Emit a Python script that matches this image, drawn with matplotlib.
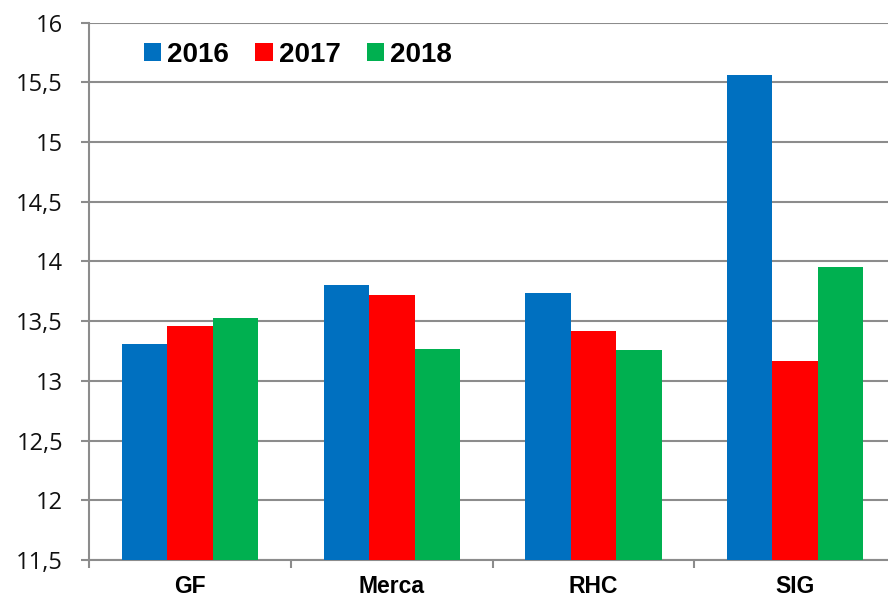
"""Bar chart: values per unit for 2016-2018."""

import matplotlib
matplotlib.use("Agg")
import matplotlib.pyplot as plt
from matplotlib.patches import Patch
import numpy as np

categories = ["GF", "Merca", "RHC", "SIG"]
years = ["2016", "2017", "2018"]
values_2016 = [13.31, 13.80, 13.74, 15.56]
values_2017 = [13.46, 13.72, 13.42, 13.17]
values_2018 = [13.53, 13.27, 13.26, 13.95]
yticks = [11.5, 12, 12.5, 13, 13.5, 14, 14.5, 15, 15.5, 16]
ytick_labels = ["11,5", "12", "12,5", "13", "13,5", "14", "14,5", "15", "15,5", "16"]

COLORS = ["#0070C0", "#FF0000", "#00B050"]
GRID = "#8C8C8C"


def main() -> None:
    fig = plt.figure(figsize=(8.88, 6.03), dpi=100)
    ax = fig.add_axes([0.1006, 0.0713, 0.9084, 0.8911])

    x = np.arange(len(categories))
    width = 0.225
    series = [values_2016, values_2017, values_2018]
    for i, (vals, color) in enumerate(zip(series, COLORS)):
        heights = np.array(vals) - 11.5
        ax.bar(x + (i - 1) * width, heights, width=width, bottom=11.5,
               color=color, edgecolor="none", zorder=3)

    ax.set_xlim(-0.5, len(categories) - 0.5)
    ax.set_ylim(11.5, 16)

    ax.set_yticks(yticks, ytick_labels)
    ax.grid(axis="y", color=GRID, linewidth=1.5, zorder=0)
    ax.set_axisbelow(True)
    ax.tick_params(axis="y", direction="out", length=6, width=1.5, color=GRID,
                   pad=13, labelsize=17, labelcolor="#111111")
    for label in ax.get_yticklabels():
        label.set_family(["Open Sans", "DejaVu Sans"])

    ax.set_xticks(x, categories)
    ax.set_xticks(np.arange(len(categories) + 1) - 0.5, minor=True)
    ax.tick_params(axis="x", which="major", length=0, pad=11, labelsize=16.5)
    ax.tick_params(axis="x", which="minor", direction="out", length=6,
                   width=1.5, color=GRID)
    for label in ax.get_xticklabels():
        label.set_family(["Liberation Sans", "DejaVu Sans"])
        label.set_fontweight("bold")

    for side in ("top", "right"):
        ax.spines[side].set_visible(False)
    for side in ("left", "bottom"):
        ax.spines[side].set_color(GRID)
        ax.spines[side].set_linewidth(1.5)

    handles = [Patch(facecolor=c, edgecolor="none", label=y) for c, y in zip(COLORS, years)]
    fig.legend(handles=handles, loc="center left", bbox_to_anchor=(0.162, 0.909),
               ncol=3, frameon=False, handlelength=0.62, handleheight=0.62,
               handletextpad=0.22, columnspacing=0.95, borderaxespad=0,
               borderpad=0,
               prop={"family": "Liberation Sans", "weight": "bold", "size": 20})

    fig.savefig("out.png", dpi=100, facecolor="white")
    plt.close(fig)


if __name__ == "__main__":
    main()
